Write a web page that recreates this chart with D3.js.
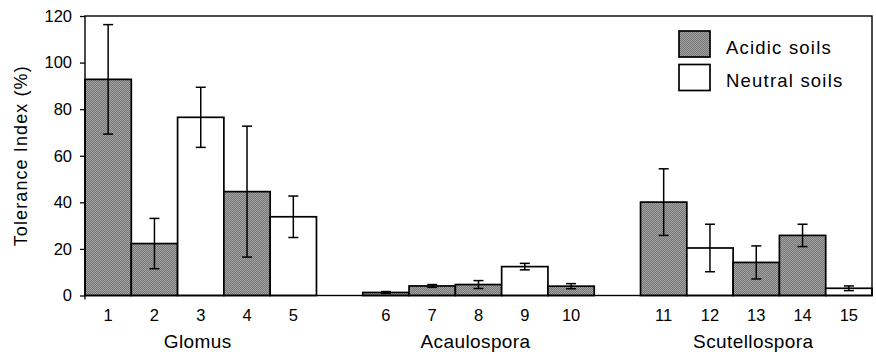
<!DOCTYPE html>
<html>
<head>
<meta charset="utf-8">
<script src="https://cdn.jsdelivr.net/npm/d3@7"></script>
<style>
  body { margin: 0; background: #fff; }
  text { font-family: Arial, "Liberation Sans", sans-serif; fill: #000; }
</style>
</head>
<body>
<div id="chart"></div>
<script>
// isolate numbers, one per bar
var isolates = ['1','2','3','4','5','6','7','8','9','10','11','12','13','14','15'];
var genera = ['Glomus','Glomus','Glomus','Glomus','Glomus',
              'Acaulospora','Acaulospora','Acaulospora','Acaulospora','Acaulospora',
              'Scutellospora','Scutellospora','Scutellospora','Scutellospora','Scutellospora'];
var soils = ['Acidic','Acidic','Neutral','Acidic','Neutral',
             'Acidic','Acidic','Acidic','Neutral','Acidic',
             'Acidic','Neutral','Acidic','Acidic','Neutral'];
var tolerance = [92.8, 22.3, 76.5, 44.6, 33.8, 1.3, 4.1, 4.7, 12.4, 4.0, 40.1, 20.4, 14.2, 25.8, 3.1];
var errors    = [23.5, 10.8, 12.9, 28.1, 8.9, 0.4, 0.6, 1.7, 1.4, 1.1, 14.3, 10.2, 7.1, 4.8, 1.0];
var yTicks = [0, 20, 40, 60, 80, 100, 120];
var legendLabels = ['Acidic soils', 'Neutral soils'];
var legendKeys = ['Acidic', 'Neutral'];

var width = 876, height = 354;
var margin = {top: 16, right: 4, bottom: 58.5, left: 85};
var innerW = width - margin.left - margin.right,
    innerH = height - margin.top - margin.bottom;

var svg = d3.select('#chart').append('svg')
    .attr('width', width)
    .attr('height', height);

// fine screen-tone fill for acidic soils
var defs = svg.append('defs');
var pat = defs.append('pattern')
    .attr('id', 'stipple')
    .attr('width', 2).attr('height', 2)
    .attr('patternUnits', 'userSpaceOnUse');
pat.append('rect').attr('width', 2).attr('height', 2).attr('fill', '#a2a2a2');
pat.append('rect').attr('width', 1).attr('height', 1).attr('fill', '#777');
pat.append('rect').attr('x', 1).attr('y', 1).attr('width', 1).attr('height', 1).attr('fill', '#777');

var fill = d3.scaleOrdinal().domain(legendKeys).range(['url(#stipple)', '#fff']);

// one empty slot between genera
var groups = Array.from(new Set(genera));
var slots = [];
groups.forEach(function(gn, i) {
  if (i > 0) slots.push('gap' + i);
  isolates.forEach(function(d, j) { if (genera[j] === gn) slots.push(d); });
});

var x = d3.scaleBand().domain(slots).range([0, innerW]).padding(0);
var y = d3.scaleLinear().domain([0, 120]).range([innerH, 0]);

var g = svg.append('g').attr('transform', 'translate(' + margin.left + ',' + margin.top + ')');

var data = isolates.map(function(d, i) {
  return {id: d, genus: genera[i], soil: soils[i], v: tolerance[i], e: errors[i]};
});

// bars
g.selectAll('.bar').data(data).enter().append('rect')
    .attr('class', 'bar')
    .attr('x', function(d) { return x(d.id); })
    .attr('y', function(d) { return y(d.v); })
    .attr('width', x.bandwidth())
    .attr('height', function(d) { return innerH - y(d.v); })
    .attr('fill', function(d) { return fill(d.soil); })
    .attr('stroke', '#000')
    .attr('stroke-width', 1.7);

// error bars
var eb = g.selectAll('.err').data(data).enter().append('g').attr('class', 'err')
    .attr('stroke', '#000').attr('stroke-width', 1.5);
eb.append('line')
    .attr('x1', function(d) { return x(d.id) + x.bandwidth() / 2; })
    .attr('x2', function(d) { return x(d.id) + x.bandwidth() / 2; })
    .attr('y1', function(d) { return y(d.v + d.e); })
    .attr('y2', function(d) { return y(d.v - d.e); });
[1, -1].forEach(function(s) {
  eb.append('line')
      .attr('x1', function(d) { return x(d.id) + x.bandwidth() / 2 - 5; })
      .attr('x2', function(d) { return x(d.id) + x.bandwidth() / 2 + 5; })
      .attr('y1', function(d) { return y(d.v + s * d.e); })
      .attr('y2', function(d) { return y(d.v + s * d.e); });
});

// frame
g.append('rect')
    .attr('width', innerW).attr('height', innerH)
    .attr('fill', 'none').attr('stroke', '#000').attr('stroke-width', 1.4);

// y axis
var yAxis = g.append('g')
    .call(d3.axisLeft(y).tickValues(yTicks).tickSize(5).tickPadding(8));
yAxis.select('.domain').remove();
yAxis.selectAll('line').attr('stroke', '#000').attr('stroke-width', 1.3);
yAxis.selectAll('text')
    .style('font-size', '16.5px').attr('fill', '#000');

// x tick labels, isolate numbers
g.selectAll('.xlab').data(data).enter().append('text')
    .attr('class', 'xlab')
    .attr('x', function(d) { return x(d.id) + x.bandwidth() / 2; })
    .attr('y', innerH + 25)
    .attr('text-anchor', 'middle')
    .style('font-size', '16.5px')
    .text(function(d) { return d.id; });

g.append('line')
    .attr('x1', 0).attr('x2', 0).attr('y1', innerH).attr('y2', innerH + 4)
    .attr('stroke', '#000').attr('stroke-width', 1.3);

// genus names
g.selectAll('.genus').data(groups).enter().append('text')
    .attr('class', 'genus')
    .attr('x', function(gn) {
      var ids = data.filter(function(d) { return d.genus === gn; });
      var x0 = x(ids[0].id), x1 = x(ids[ids.length - 1].id) + x.bandwidth();
      return (x0 + x1) / 2 - 3;
    })
    .attr('y', innerH + 52)
    .attr('text-anchor', 'middle')
    .style('font-size', '19px')
    .style('letter-spacing', '0.4px')
    .text(function(d) { return d; });

// y title
svg.append('text')
    .attr('transform', 'translate(27,' + (margin.top + innerH / 2) + ') rotate(-90)')
    .attr('text-anchor', 'middle')
    .style('font-size', '18px')
    .style('letter-spacing', '1.1px')
    .text('Tolerance Index (%)');

// legend
var leg = svg.append('g').attr('transform', 'translate(679,31)');
var li = leg.selectAll('.li').data(legendKeys).enter().append('g')
    .attr('transform', function(d, i) { return 'translate(0,' + (i * 33.5) + ')'; });
li.append('rect')
    .attr('width', 31).attr('height', 26)
    .attr('fill', function(d) { return fill(d); })
    .attr('stroke', '#000').attr('stroke-width', 1.7);
li.append('text')
    .attr('x', 47).attr('y', 22.5)
    .style('font-size', '18.5px')
    .style('letter-spacing', '1.2px')
    .text(function(d, i) { return legendLabels[i]; });
</script>
</body>
</html>
